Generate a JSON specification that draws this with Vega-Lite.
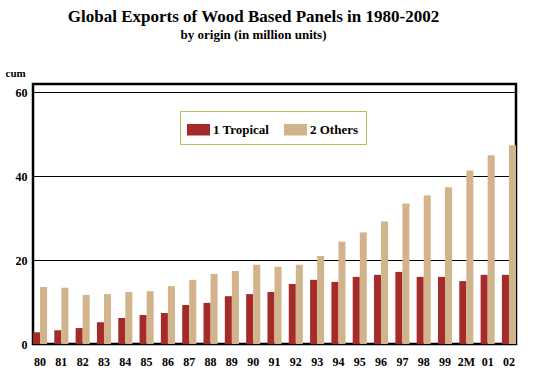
{
  "$schema": "https://vega.github.io/schema/vega-lite/v6.json",
  "autosize": "none",
  "width": 483,
  "height": 260,
  "padding": {"left": 33, "top": 84, "right": 19, "bottom": 32},
  "background": "white",
  "title": {
    "text": "Global Exports of Wood Based Panels in 1980-2002",
    "subtitle": "by origin (in million units)",
    "anchor": "middle",
    "frame": "group",
    "dx": -21,
    "offset": 24,
    "font": "Liberation Serif",
    "fontSize": 17,
    "fontWeight": "bold",
    "color": "black",
    "subtitleFont": "Liberation Serif",
    "subtitleFontSize": 13,
    "subtitleFontWeight": "bold",
    "subtitleColor": "black",
    "subtitlePadding": 3
  },
  "config": {
    "view": {"stroke": "black", "strokeWidth": 2.5},
    "axis": {"labelFont": "Liberation Serif", "labelFontWeight": "bold", "labelFontSize": 12, "labelColor": "black"}
  },
  "data": {
    "values": [
      {"year": "80", "series": "1 Tropical", "value": 2.8}, {"year": "80", "series": "2 Others", "value": 13.6},
      {"year": "81", "series": "1 Tropical", "value": 3.3}, {"year": "81", "series": "2 Others", "value": 13.4},
      {"year": "82", "series": "1 Tropical", "value": 3.8}, {"year": "82", "series": "2 Others", "value": 11.7},
      {"year": "83", "series": "1 Tropical", "value": 5.2}, {"year": "83", "series": "2 Others", "value": 11.9},
      {"year": "84", "series": "1 Tropical", "value": 6.2}, {"year": "84", "series": "2 Others", "value": 12.4},
      {"year": "85", "series": "1 Tropical", "value": 6.9}, {"year": "85", "series": "2 Others", "value": 12.6},
      {"year": "86", "series": "1 Tropical", "value": 7.4}, {"year": "86", "series": "2 Others", "value": 13.8},
      {"year": "87", "series": "1 Tropical", "value": 9.3}, {"year": "87", "series": "2 Others", "value": 15.3},
      {"year": "88", "series": "1 Tropical", "value": 9.8}, {"year": "88", "series": "2 Others", "value": 16.7},
      {"year": "89", "series": "1 Tropical", "value": 11.4}, {"year": "89", "series": "2 Others", "value": 17.4},
      {"year": "90", "series": "1 Tropical", "value": 11.9}, {"year": "90", "series": "2 Others", "value": 18.9},
      {"year": "91", "series": "1 Tropical", "value": 12.4}, {"year": "91", "series": "2 Others", "value": 18.4},
      {"year": "92", "series": "1 Tropical", "value": 14.3}, {"year": "92", "series": "2 Others", "value": 18.9},
      {"year": "93", "series": "1 Tropical", "value": 15.3}, {"year": "93", "series": "2 Others", "value": 21.0},
      {"year": "94", "series": "1 Tropical", "value": 14.8}, {"year": "94", "series": "2 Others", "value": 24.4},
      {"year": "95", "series": "1 Tropical", "value": 16.0}, {"year": "95", "series": "2 Others", "value": 26.6},
      {"year": "96", "series": "1 Tropical", "value": 16.5}, {"year": "96", "series": "2 Others", "value": 29.2},
      {"year": "97", "series": "1 Tropical", "value": 17.2}, {"year": "97", "series": "2 Others", "value": 33.5},
      {"year": "98", "series": "1 Tropical", "value": 16.0}, {"year": "98", "series": "2 Others", "value": 35.4},
      {"year": "99", "series": "1 Tropical", "value": 16.0}, {"year": "99", "series": "2 Others", "value": 37.4},
      {"year": "2M", "series": "1 Tropical", "value": 15.0}, {"year": "2M", "series": "2 Others", "value": 41.4},
      {"year": "01", "series": "1 Tropical", "value": 16.5}, {"year": "01", "series": "2 Others", "value": 45.0},
      {"year": "02", "series": "1 Tropical", "value": 16.5}, {"year": "02", "series": "2 Others", "value": 47.4}
    ]
  },
  "mark": {"type": "bar"},
  "encoding": {
    "x": {
      "field": "year",
      "type": "nominal",
      "sort": null,
      "scale": {"paddingInner": 0.34, "paddingOuter": 0},
      "axis": {"title": null, "labelAngle": 0, "ticks": false, "domain": false, "labelPadding": 12, "labelFontSize": 12}
    },
    "xOffset": {"field": "series", "type": "nominal", "scale": {"paddingInner": 0, "paddingOuter": 0}},
    "y": {
      "field": "value",
      "type": "quantitative",
      "scale": {"domain": [0, 62], "nice": false},
      "axis": {
        "values": [0, 20, 40, 60],
        "ticks": false,
        "domain": false,
        "grid": true,
        "gridColor": "black",
        "gridWidth": 1.2,
        "gridOpacity": 1,
        "labelPadding": 6,
        "title": "cum",
        "titleAngle": 0,
        "titleAlign": "left",
        "titleBaseline": "alphabetic",
        "titleX": -28,
        "titleY": -8,
        "titleFont": "Liberation Serif",
        "titleFontSize": 11,
        "titleFontWeight": "bold",
        "titleColor": "black"
      }
    },
    "color": {
      "field": "series",
      "type": "nominal",
      "scale": {"domain": ["1 Tropical", "2 Others"], "range": ["#a52a2a", "#d2b48c"]},
      "legend": {
        "title": null,
        "orient": "none",
        "legendX": 147,
        "legendY": 27,
        "direction": "horizontal",
        "padding": 7,
        "strokeColor": "#afc060",
        "fillColor": "white",
        "symbolType": "M-1,-0.5H1V0.5H-1Z",
        "symbolSize": 529,
        "symbolStrokeWidth": 0,
        "symbolOpacity": 1,
        "labelOffset": 3,
        "columnPadding": 14,
        "labelFont": "Liberation Serif",
        "labelFontWeight": "bold",
        "labelFontSize": 13,
        "labelColor": "black"
      }
    }
  }
}
